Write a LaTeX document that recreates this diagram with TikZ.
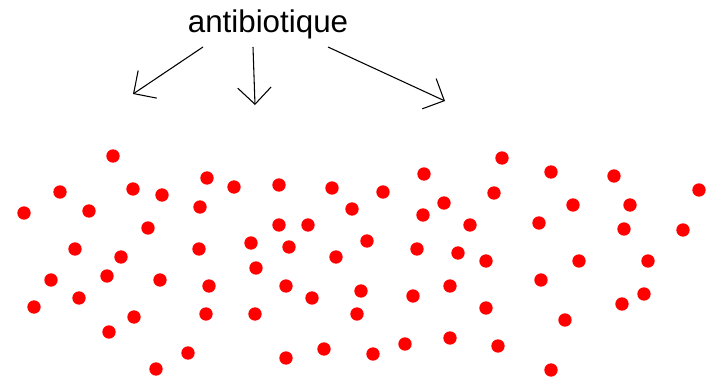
\documentclass[tikz,border=0pt]{standalone}
\usepackage{fontspec}
\setmainfont{Liberation Sans}
\usepackage{tikz}
\usetikzlibrary{arrows.meta, positioning}
\definecolor{dot-red}{HTML}{FF0000}

\begin{document}
\begin{tikzpicture}[x=0.75pt, y=-0.75pt,
        label/.style={anchor=base, inner sep=0pt, font=\fontsize{23.5}{27}\selectfont},
        arr/.style={-{Straight Barb[length=12.5pt, width=25pt, line width=0.8pt]}, line width=0.8pt, black},
        dot/.style={fill=dot-red}]
        \useasboundingbox (0,0) rectangle (714,379);
        \node[label] (ab) at (268,32) {antibiotique};
        \coordinate (s1) at (203,47);
        \coordinate (s2) at (253,47);
        \coordinate (s3) at (328,47);
        \coordinate (t1) at (133,94);
        \coordinate (t2) at (255,105);
        \coordinate (t3) at (445,101);
        \draw[arr] (s1) -- (t1);
        \draw[arr] (s2) -- (t2);
        \draw[arr] (s3) -- (t3);
        \foreach \x/\y in {113/156, 207/178, 234/187, 60/192, 133/189, 162/195,
                200/207, 24/213, 89/211, 148/228, 75/249, 121/257, 199/249,
                51/280, 107/276, 160/280, 209/286, 79/298, 34/307, 134/317,
                206/314, 109/332, 188/353, 156/369,
                279/185, 332/188, 383/192, 424/174, 352/209, 444/203, 423/215,
                470/225, 279/225, 308/225, 251/243, 289/247, 367/241, 336/257,
                417/249, 458/253, 256/268, 286/286, 312/298, 361/291, 413/296,
                450/286, 255/314, 357/314, 405/344, 450/338, 324/349, 286/358,
                373/354,
                502/158, 551/172, 614/176, 699/190, 494/193, 573/205, 630/205,
                539/223, 624/229, 683/230, 486/261, 579/261, 648/261, 541/280,
                644/294, 622/304, 486/308, 565/320, 498/346, 551/370}
          \fill[dot] (\x,\y) circle (5pt);
      \end{tikzpicture}
\end{document}
